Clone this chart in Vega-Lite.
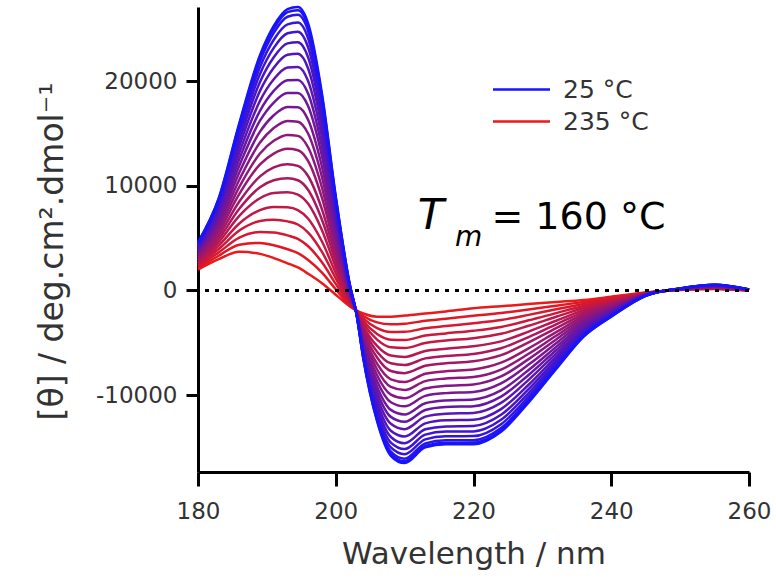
{
"$schema": "https://vega.github.io/schema/vega-lite/v6.json",
"width": 551, "height": 465,
"autosize": "none",
"padding": {"left": 198, "top": 7, "right": 27, "bottom": 107},
"background": "white",
"config": {"view": {"stroke": null}, "font": "DejaVu Sans",
  "axis": {"domainColor": "black", "domainWidth": 3, "tickColor": "black", "tickWidth": 3, "tickSize": 12, "labelFont": "DejaVu Sans", "labelFontSize": 23, "labelColor": "#333", "titleFont": "DejaVu Sans", "titleFontSize": 31, "titleFontWeight": "normal", "titleColor": "#333", "grid": false, "labelFlush": false, "labelOverlap": false, "labelBound": false}
},
"datasets": {"cd": [
{"T":235,"w":180,"v":2000},{"T":235,"w":183,"v":3000},{"T":235,"w":186,"v":3700},{"T":235,"w":189,"v":3500},{"T":235,"w":191,"v":3100},{"T":235,"w":193,"v":2600},{"T":235,"w":194.5,"v":2200},{"T":235,"w":196,"v":1600},{"T":235,"w":198,"v":700},{"T":235,"w":200,"v":-400},{"T":235,"w":202,"v":-1500},{"T":235,"w":203,"v":-1900},{"T":235,"w":204,"v":-2200},{"T":235,"w":206,"v":-2500},{"T":235,"w":208,"v":-2500},{"T":235,"w":210,"v":-2400},{"T":235,"w":213,"v":-2200},{"T":235,"w":216,"v":-2000},{"T":235,"w":220,"v":-1700},{"T":235,"w":224,"v":-1500},{"T":235,"w":228,"v":-1300},{"T":235,"w":232,"v":-1100},{"T":235,"w":236,"v":-900},{"T":235,"w":240,"v":-600},{"T":235,"w":245,"v":-200},{"T":235,"w":250,"v":50},{"T":235,"w":255,"v":150},{"T":235,"w":260,"v":0},
{"T":225,"w":180,"v":2140},{"T":225,"w":183,"v":3320},{"T":225,"w":186,"v":4380},{"T":225,"w":189,"v":4550},{"T":225,"w":191,"v":4320},{"T":225,"w":193,"v":3940},{"T":225,"w":194.5,"v":3570},{"T":225,"w":196,"v":2920},{"T":225,"w":198,"v":1700},{"T":225,"w":200,"v":120},{"T":225,"w":202,"v":-1380},{"T":225,"w":203,"v":-1920},{"T":225,"w":204,"v":-2440},{"T":225,"w":206,"v":-3050},{"T":225,"w":208,"v":-3230},{"T":225,"w":210,"v":-3180},{"T":225,"w":213,"v":-2900},{"T":225,"w":216,"v":-2700},{"T":225,"w":220,"v":-2420},{"T":225,"w":224,"v":-2160},{"T":225,"w":228,"v":-1820},{"T":225,"w":232,"v":-1450},{"T":225,"w":236,"v":-1090},{"T":225,"w":240,"v":-700},{"T":225,"w":245,"v":-220},{"T":225,"w":250,"v":60},{"T":225,"w":255,"v":170},{"T":225,"w":260,"v":10},
{"T":215,"w":180,"v":2290},{"T":215,"w":183,"v":3640},{"T":215,"w":186,"v":5050},{"T":215,"w":189,"v":5590},{"T":215,"w":191,"v":5540},{"T":215,"w":193,"v":5270},{"T":215,"w":194.5,"v":4940},{"T":215,"w":196,"v":4230},{"T":215,"w":198,"v":2690},{"T":215,"w":200,"v":630},{"T":215,"w":202,"v":-1260},{"T":215,"w":203,"v":-1930},{"T":215,"w":204,"v":-2670},{"T":215,"w":206,"v":-3600},{"T":215,"w":208,"v":-3960},{"T":215,"w":210,"v":-3950},{"T":215,"w":213,"v":-3610},{"T":215,"w":216,"v":-3400},{"T":215,"w":220,"v":-3130},{"T":215,"w":224,"v":-2820},{"T":215,"w":228,"v":-2330},{"T":215,"w":232,"v":-1800},{"T":215,"w":236,"v":-1290},{"T":215,"w":240,"v":-810},{"T":215,"w":245,"v":-230},{"T":215,"w":250,"v":70},{"T":215,"w":255,"v":190},{"T":215,"w":260,"v":10},
{"T":205,"w":180,"v":2430},{"T":205,"w":183,"v":3960},{"T":205,"w":186,"v":5730},{"T":205,"w":189,"v":6640},{"T":205,"w":191,"v":6760},{"T":205,"w":193,"v":6610},{"T":205,"w":194.5,"v":6310},{"T":205,"w":196,"v":5540},{"T":205,"w":198,"v":3690},{"T":205,"w":200,"v":1150},{"T":205,"w":202,"v":-1140},{"T":205,"w":203,"v":-1950},{"T":205,"w":204,"v":-2910},{"T":205,"w":206,"v":-4150},{"T":205,"w":208,"v":-4700},{"T":205,"w":210,"v":-4730},{"T":205,"w":213,"v":-4310},{"T":205,"w":216,"v":-4100},{"T":205,"w":220,"v":-3850},{"T":205,"w":224,"v":-3480},{"T":205,"w":228,"v":-2850},{"T":205,"w":232,"v":-2160},{"T":205,"w":236,"v":-1480},{"T":205,"w":240,"v":-910},{"T":205,"w":245,"v":-250},{"T":205,"w":250,"v":80},{"T":205,"w":255,"v":220},{"T":205,"w":260,"v":20},
{"T":195,"w":180,"v":2570},{"T":195,"w":183,"v":4280},{"T":195,"w":186,"v":6410},{"T":195,"w":189,"v":7680},{"T":195,"w":191,"v":7980},{"T":195,"w":193,"v":7950},{"T":195,"w":194.5,"v":7680},{"T":195,"w":196,"v":6860},{"T":195,"w":198,"v":4680},{"T":195,"w":200,"v":1670},{"T":195,"w":202,"v":-1020},{"T":195,"w":203,"v":-1970},{"T":195,"w":204,"v":-3150},{"T":195,"w":206,"v":-4700},{"T":195,"w":208,"v":-5430},{"T":195,"w":210,"v":-5500},{"T":195,"w":213,"v":-5020},{"T":195,"w":216,"v":-4790},{"T":195,"w":220,"v":-4560},{"T":195,"w":224,"v":-4140},{"T":195,"w":228,"v":-3370},{"T":195,"w":232,"v":-2510},{"T":195,"w":236,"v":-1670},{"T":195,"w":240,"v":-1020},{"T":195,"w":245,"v":-270},{"T":195,"w":250,"v":80},{"T":195,"w":255,"v":240},{"T":195,"w":260,"v":20},
{"T":185,"w":180,"v":2730},{"T":185,"w":183,"v":4620},{"T":185,"w":186,"v":7140},{"T":185,"w":189,"v":8820},{"T":185,"w":191,"v":9320},{"T":185,"w":193,"v":9400},{"T":185,"w":194.5,"v":9170},{"T":185,"w":196,"v":8290},{"T":185,"w":198,"v":5770},{"T":185,"w":200,"v":2230},{"T":185,"w":202,"v":-880},{"T":185,"w":203,"v":-1980},{"T":185,"w":204,"v":-3400},{"T":185,"w":206,"v":-5300},{"T":185,"w":208,"v":-6220},{"T":185,"w":210,"v":-6350},{"T":185,"w":213,"v":-5780},{"T":185,"w":216,"v":-5560},{"T":185,"w":220,"v":-5340},{"T":185,"w":224,"v":-4860},{"T":185,"w":228,"v":-3930},{"T":185,"w":232,"v":-2890},{"T":185,"w":236,"v":-1880},{"T":185,"w":240,"v":-1130},{"T":185,"w":245,"v":-280},{"T":185,"w":250,"v":90},{"T":185,"w":255,"v":260},{"T":185,"w":260,"v":30},
{"T":175,"w":180,"v":2870},{"T":175,"w":183,"v":4940},{"T":175,"w":186,"v":7820},{"T":175,"w":189,"v":9870},{"T":175,"w":191,"v":10540},{"T":175,"w":193,"v":10740},{"T":175,"w":194.5,"v":10540},{"T":175,"w":196,"v":9610},{"T":175,"w":198,"v":6760},{"T":175,"w":200,"v":2750},{"T":175,"w":202,"v":-760},{"T":175,"w":203,"v":-2000},{"T":175,"w":204,"v":-3640},{"T":175,"w":206,"v":-5850},{"T":175,"w":208,"v":-6960},{"T":175,"w":210,"v":-7120},{"T":175,"w":213,"v":-6490},{"T":175,"w":216,"v":-6260},{"T":175,"w":220,"v":-6060},{"T":175,"w":224,"v":-5520},{"T":175,"w":228,"v":-4450},{"T":175,"w":232,"v":-3240},{"T":175,"w":236,"v":-2070},{"T":175,"w":240,"v":-1240},{"T":175,"w":245,"v":-300},{"T":175,"w":250,"v":100},{"T":175,"w":255,"v":280},{"T":175,"w":260,"v":30},
{"T":165,"w":180,"v":3010},{"T":165,"w":183,"v":5260},{"T":165,"w":186,"v":8500},{"T":165,"w":189,"v":10910},{"T":165,"w":191,"v":11760},{"T":165,"w":193,"v":12080},{"T":165,"w":194.5,"v":11910},{"T":165,"w":196,"v":10920},{"T":165,"w":198,"v":7760},{"T":165,"w":200,"v":3270},{"T":165,"w":202,"v":-640},{"T":165,"w":203,"v":-2020},{"T":165,"w":204,"v":-3880},{"T":165,"w":206,"v":-6400},{"T":165,"w":208,"v":-7690},{"T":165,"w":210,"v":-7900},{"T":165,"w":213,"v":-7190},{"T":165,"w":216,"v":-6950},{"T":165,"w":220,"v":-6770},{"T":165,"w":224,"v":-6180},{"T":165,"w":228,"v":-4970},{"T":165,"w":232,"v":-3600},{"T":165,"w":236,"v":-2270},{"T":165,"w":240,"v":-1340},{"T":165,"w":245,"v":-320},{"T":165,"w":250,"v":110},{"T":165,"w":255,"v":310},{"T":165,"w":260,"v":40},
{"T":155,"w":180,"v":3170},{"T":155,"w":183,"v":5610},{"T":155,"w":186,"v":9240},{"T":155,"w":189,"v":12050},{"T":155,"w":191,"v":13090},{"T":155,"w":193,"v":13540},{"T":155,"w":194.5,"v":13410},{"T":155,"w":196,"v":12360},{"T":155,"w":198,"v":8850},{"T":155,"w":200,"v":3830},{"T":155,"w":202,"v":-510},{"T":155,"w":203,"v":-2040},{"T":155,"w":204,"v":-4140},{"T":155,"w":206,"v":-7000},{"T":155,"w":208,"v":-8490},{"T":155,"w":210,"v":-8750},{"T":155,"w":213,"v":-7960},{"T":155,"w":216,"v":-7720},{"T":155,"w":220,"v":-7550},{"T":155,"w":224,"v":-6900},{"T":155,"w":228,"v":-5530},{"T":155,"w":232,"v":-3980},{"T":155,"w":236,"v":-2480},{"T":155,"w":240,"v":-1460},{"T":155,"w":245,"v":-340},{"T":155,"w":250,"v":120},{"T":155,"w":255,"v":330},{"T":155,"w":260,"v":50},
{"T":145,"w":180,"v":3310},{"T":145,"w":183,"v":5930},{"T":145,"w":186,"v":9910},{"T":145,"w":189,"v":13100},{"T":145,"w":191,"v":14310},{"T":145,"w":193,"v":14870},{"T":145,"w":194.5,"v":14780},{"T":145,"w":196,"v":13670},{"T":145,"w":198,"v":9840},{"T":145,"w":200,"v":4350},{"T":145,"w":202,"v":-390},{"T":145,"w":203,"v":-2050},{"T":145,"w":204,"v":-4370},{"T":145,"w":206,"v":-7550},{"T":145,"w":208,"v":-9220},{"T":145,"w":210,"v":-9520},{"T":145,"w":213,"v":-8660},{"T":145,"w":216,"v":-8410},{"T":145,"w":220,"v":-8270},{"T":145,"w":224,"v":-7560},{"T":145,"w":228,"v":-6050},{"T":145,"w":232,"v":-4330},{"T":145,"w":236,"v":-2670},{"T":145,"w":240,"v":-1560},{"T":145,"w":245,"v":-350},{"T":145,"w":250,"v":130},{"T":145,"w":255,"v":350},{"T":145,"w":260,"v":50},
{"T":135,"w":180,"v":3460},{"T":135,"w":183,"v":6250},{"T":135,"w":186,"v":10590},{"T":135,"w":189,"v":14140},{"T":135,"w":191,"v":15530},{"T":135,"w":193,"v":16210},{"T":135,"w":194.5,"v":16140},{"T":135,"w":196,"v":14980},{"T":135,"w":198,"v":10840},{"T":135,"w":200,"v":4860},{"T":135,"w":202,"v":-270},{"T":135,"w":203,"v":-2070},{"T":135,"w":204,"v":-4610},{"T":135,"w":206,"v":-8100},{"T":135,"w":208,"v":-9950},{"T":135,"w":210,"v":-10300},{"T":135,"w":213,"v":-9370},{"T":135,"w":216,"v":-9110},{"T":135,"w":220,"v":-8980},{"T":135,"w":224,"v":-8220},{"T":135,"w":228,"v":-6560},{"T":135,"w":232,"v":-4680},{"T":135,"w":236,"v":-2860},{"T":135,"w":240,"v":-1660},{"T":135,"w":245,"v":-370},{"T":135,"w":250,"v":130},{"T":135,"w":255,"v":370},{"T":135,"w":260,"v":60},
{"T":125,"w":180,"v":3600},{"T":125,"w":183,"v":6570},{"T":125,"w":186,"v":11270},{"T":125,"w":189,"v":15190},{"T":125,"w":191,"v":16750},{"T":125,"w":193,"v":17550},{"T":125,"w":194.5,"v":17510},{"T":125,"w":196,"v":16300},{"T":125,"w":198,"v":11830},{"T":125,"w":200,"v":5380},{"T":125,"w":202,"v":-150},{"T":125,"w":203,"v":-2090},{"T":125,"w":204,"v":-4850},{"T":125,"w":206,"v":-8650},{"T":125,"w":208,"v":-10680},{"T":125,"w":210,"v":-11070},{"T":125,"w":213,"v":-10070},{"T":125,"w":216,"v":-9810},{"T":125,"w":220,"v":-9700},{"T":125,"w":224,"v":-8880},{"T":125,"w":228,"v":-7080},{"T":125,"w":232,"v":-5040},{"T":125,"w":236,"v":-3050},{"T":125,"w":240,"v":-1770},{"T":125,"w":245,"v":-390},{"T":125,"w":250,"v":140},{"T":125,"w":255,"v":400},{"T":125,"w":260,"v":60},
{"T":115,"w":180,"v":3740},{"T":115,"w":183,"v":6890},{"T":115,"w":186,"v":11940},{"T":115,"w":189,"v":16230},{"T":115,"w":191,"v":17970},{"T":115,"w":193,"v":18880},{"T":115,"w":194.5,"v":18880},{"T":115,"w":196,"v":17610},{"T":115,"w":198,"v":12830},{"T":115,"w":200,"v":5900},{"T":115,"w":202,"v":-30},{"T":115,"w":203,"v":-2100},{"T":115,"w":204,"v":-5080},{"T":115,"w":206,"v":-9200},{"T":115,"w":208,"v":-11410},{"T":115,"w":210,"v":-11850},{"T":115,"w":213,"v":-10780},{"T":115,"w":216,"v":-10510},{"T":115,"w":220,"v":-10410},{"T":115,"w":224,"v":-9540},{"T":115,"w":228,"v":-7600},{"T":115,"w":232,"v":-5390},{"T":115,"w":236,"v":-3250},{"T":115,"w":240,"v":-1870},{"T":115,"w":245,"v":-400},{"T":115,"w":250,"v":150},{"T":115,"w":255,"v":420},{"T":115,"w":260,"v":70},
{"T":105,"w":180,"v":3870},{"T":105,"w":183,"v":7180},{"T":105,"w":186,"v":12560},{"T":105,"w":189,"v":17180},{"T":105,"w":191,"v":19080},{"T":105,"w":193,"v":20100},{"T":105,"w":194.5,"v":20130},{"T":105,"w":196,"v":18810},{"T":105,"w":198,"v":13730},{"T":105,"w":200,"v":6370},{"T":105,"w":202,"v":80},{"T":105,"w":203,"v":-2120},{"T":105,"w":204,"v":-5300},{"T":105,"w":206,"v":-9700},{"T":105,"w":208,"v":-12080},{"T":105,"w":210,"v":-12550},{"T":105,"w":213,"v":-11420},{"T":105,"w":216,"v":-11140},{"T":105,"w":220,"v":-11060},{"T":105,"w":224,"v":-10140},{"T":105,"w":228,"v":-8070},{"T":105,"w":232,"v":-5710},{"T":105,"w":236,"v":-3420},{"T":105,"w":240,"v":-1970},{"T":105,"w":245,"v":-420},{"T":105,"w":250,"v":160},{"T":105,"w":255,"v":440},{"T":105,"w":260,"v":70},
{"T":95,"w":180,"v":4000},{"T":95,"w":183,"v":7470},{"T":95,"w":186,"v":13170},{"T":95,"w":189,"v":18130},{"T":95,"w":191,"v":20190},{"T":95,"w":193,"v":21310},{"T":95,"w":194.5,"v":21370},{"T":95,"w":196,"v":20000},{"T":95,"w":198,"v":14640},{"T":95,"w":200,"v":6840},{"T":95,"w":202,"v":190},{"T":95,"w":203,"v":-2130},{"T":95,"w":204,"v":-5510},{"T":95,"w":206,"v":-10200},{"T":95,"w":208,"v":-12740},{"T":95,"w":210,"v":-13260},{"T":95,"w":213,"v":-12060},{"T":95,"w":216,"v":-11780},{"T":95,"w":220,"v":-11710},{"T":95,"w":224,"v":-10740},{"T":95,"w":228,"v":-8540},{"T":95,"w":232,"v":-6030},{"T":95,"w":236,"v":-3600},{"T":95,"w":240,"v":-2060},{"T":95,"w":245,"v":-430},{"T":95,"w":250,"v":170},{"T":95,"w":255,"v":460},{"T":95,"w":260,"v":80},
{"T":85,"w":180,"v":4130},{"T":85,"w":183,"v":7760},{"T":85,"w":186,"v":13790},{"T":85,"w":189,"v":19080},{"T":85,"w":191,"v":21300},{"T":85,"w":193,"v":22530},{"T":85,"w":194.5,"v":22620},{"T":85,"w":196,"v":21200},{"T":85,"w":198,"v":15540},{"T":85,"w":200,"v":7310},{"T":85,"w":202,"v":300},{"T":85,"w":203,"v":-2150},{"T":85,"w":204,"v":-5730},{"T":85,"w":206,"v":-10700},{"T":85,"w":208,"v":-13410},{"T":85,"w":210,"v":-13960},{"T":85,"w":213,"v":-12700},{"T":85,"w":216,"v":-12410},{"T":85,"w":220,"v":-12360},{"T":85,"w":224,"v":-11340},{"T":85,"w":228,"v":-9010},{"T":85,"w":232,"v":-6350},{"T":85,"w":236,"v":-3770},{"T":85,"w":240,"v":-2160},{"T":85,"w":245,"v":-450},{"T":85,"w":250,"v":170},{"T":85,"w":255,"v":480},{"T":85,"w":260,"v":80},
{"T":75,"w":180,"v":4250},{"T":75,"w":183,"v":8020},{"T":75,"w":186,"v":14340},{"T":75,"w":189,"v":19940},{"T":75,"w":191,"v":22300},{"T":75,"w":193,"v":23620},{"T":75,"w":194.5,"v":23740},{"T":75,"w":196,"v":22270},{"T":75,"w":198,"v":16360},{"T":75,"w":200,"v":7730},{"T":75,"w":202,"v":400},{"T":75,"w":203,"v":-2160},{"T":75,"w":204,"v":-5920},{"T":75,"w":206,"v":-11150},{"T":75,"w":208,"v":-14000},{"T":75,"w":210,"v":-14600},{"T":75,"w":213,"v":-13270},{"T":75,"w":216,"v":-12990},{"T":75,"w":220,"v":-12950},{"T":75,"w":224,"v":-11880},{"T":75,"w":228,"v":-9430},{"T":75,"w":232,"v":-6640},{"T":75,"w":236,"v":-3930},{"T":75,"w":240,"v":-2240},{"T":75,"w":245,"v":-460},{"T":75,"w":250,"v":180},{"T":75,"w":255,"v":500},{"T":75,"w":260,"v":90},
{"T":65,"w":180,"v":4350},{"T":65,"w":183,"v":8250},{"T":65,"w":186,"v":14830},{"T":65,"w":189,"v":20700},{"T":65,"w":191,"v":23190},{"T":65,"w":193,"v":24590},{"T":65,"w":194.5,"v":24740},{"T":65,"w":196,"v":23230},{"T":65,"w":198,"v":17080},{"T":65,"w":200,"v":8110},{"T":65,"w":202,"v":490},{"T":65,"w":203,"v":-2170},{"T":65,"w":204,"v":-6090},{"T":65,"w":206,"v":-11550},{"T":65,"w":208,"v":-14540},{"T":65,"w":210,"v":-15160},{"T":65,"w":213,"v":-13780},{"T":65,"w":216,"v":-13490},{"T":65,"w":220,"v":-13470},{"T":65,"w":224,"v":-12360},{"T":65,"w":228,"v":-9810},{"T":65,"w":232,"v":-6890},{"T":65,"w":236,"v":-4070},{"T":65,"w":240,"v":-2320},{"T":65,"w":245,"v":-470},{"T":65,"w":250,"v":190},{"T":65,"w":255,"v":510},{"T":65,"w":260,"v":90},
{"T":55,"w":180,"v":4440},{"T":55,"w":183,"v":8450},{"T":55,"w":186,"v":15260},{"T":55,"w":189,"v":21360},{"T":55,"w":191,"v":23970},{"T":55,"w":193,"v":25440},{"T":55,"w":194.5,"v":25610},{"T":55,"w":196,"v":24070},{"T":55,"w":198,"v":17710},{"T":55,"w":200,"v":8440},{"T":55,"w":202,"v":570},{"T":55,"w":203,"v":-2180},{"T":55,"w":204,"v":-6240},{"T":55,"w":206,"v":-11900},{"T":55,"w":208,"v":-15000},{"T":55,"w":210,"v":-15650},{"T":55,"w":213,"v":-14230},{"T":55,"w":216,"v":-13940},{"T":55,"w":220,"v":-13920},{"T":55,"w":224,"v":-12780},{"T":55,"w":228,"v":-10140},{"T":55,"w":232,"v":-7120},{"T":55,"w":236,"v":-4190},{"T":55,"w":240,"v":-2390},{"T":55,"w":245,"v":-480},{"T":55,"w":250,"v":190},{"T":55,"w":255,"v":530},{"T":55,"w":260,"v":90},
{"T":45,"w":180,"v":4520},{"T":45,"w":183,"v":8630},{"T":45,"w":186,"v":15630},{"T":45,"w":189,"v":21930},{"T":45,"w":191,"v":24630},{"T":45,"w":193,"v":26170},{"T":45,"w":194.5,"v":26350},{"T":45,"w":196,"v":24780},{"T":45,"w":198,"v":18260},{"T":45,"w":200,"v":8720},{"T":45,"w":202,"v":630},{"T":45,"w":203,"v":-2190},{"T":45,"w":204,"v":-6370},{"T":45,"w":206,"v":-12200},{"T":45,"w":208,"v":-15400},{"T":45,"w":210,"v":-16080},{"T":45,"w":213,"v":-14620},{"T":45,"w":216,"v":-14320},{"T":45,"w":220,"v":-14310},{"T":45,"w":224,"v":-13140},{"T":45,"w":228,"v":-10420},{"T":45,"w":232,"v":-7310},{"T":45,"w":236,"v":-4300},{"T":45,"w":240,"v":-2440},{"T":45,"w":245,"v":-490},{"T":45,"w":250,"v":200},{"T":45,"w":255,"v":540},{"T":45,"w":260,"v":100},
{"T":35,"w":180,"v":4570},{"T":35,"w":183,"v":8730},{"T":35,"w":186,"v":15850},{"T":35,"w":189,"v":22270},{"T":35,"w":191,"v":25030},{"T":35,"w":193,"v":26610},{"T":35,"w":194.5,"v":26800},{"T":35,"w":196,"v":25210},{"T":35,"w":198,"v":18580},{"T":35,"w":200,"v":8890},{"T":35,"w":202,"v":670},{"T":35,"w":203,"v":-2200},{"T":35,"w":204,"v":-6450},{"T":35,"w":206,"v":-12380},{"T":35,"w":208,"v":-15640},{"T":35,"w":210,"v":-16330},{"T":35,"w":213,"v":-14850},{"T":35,"w":216,"v":-14550},{"T":35,"w":220,"v":-14540},{"T":35,"w":224,"v":-13360},{"T":35,"w":228,"v":-10590},{"T":35,"w":232,"v":-7420},{"T":35,"w":236,"v":-4360},{"T":35,"w":240,"v":-2480},{"T":35,"w":245,"v":-500},{"T":35,"w":250,"v":200},{"T":35,"w":255,"v":550},{"T":35,"w":260,"v":100},
{"T":25,"w":180,"v":4600},{"T":25,"w":183,"v":8800},{"T":25,"w":186,"v":16000},{"T":25,"w":189,"v":22500},{"T":25,"w":191,"v":25300},{"T":25,"w":193,"v":26900},{"T":25,"w":194.5,"v":27100},{"T":25,"w":196,"v":25500},{"T":25,"w":198,"v":18800},{"T":25,"w":200,"v":9000},{"T":25,"w":202,"v":700},{"T":25,"w":203,"v":-2200},{"T":25,"w":204,"v":-6500},{"T":25,"w":206,"v":-12500},{"T":25,"w":208,"v":-15800},{"T":25,"w":210,"v":-16500},{"T":25,"w":213,"v":-15000},{"T":25,"w":216,"v":-14700},{"T":25,"w":220,"v":-14700},{"T":25,"w":224,"v":-13500},{"T":25,"w":228,"v":-10700},{"T":25,"w":232,"v":-7500},{"T":25,"w":236,"v":-4400},{"T":25,"w":240,"v":-2500},{"T":25,"w":245,"v":-500},{"T":25,"w":250,"v":200},{"T":25,"w":255,"v":550},{"T":25,"w":260,"v":100}
]},
"layer": [
  {
    "data": {"name": "cd"},
    "mark": {"type": "line", "interpolate": "monotone", "strokeWidth": 2.5},
    "encoding": {
      "x": {"field": "w", "type": "quantitative", "scale": {"domain": [180, 260], "nice": false, "zero": false},
            "axis": {"values": [180, 200, 220, 240, 260], "title": "Wavelength / nm", "tickSize": 14, "labelPadding": 14, "titlePadding": 16}},
      "y": {"field": "v", "type": "quantitative", "scale": {"domain": [-17350, 27100], "nice": false, "zero": false},
            "axis": {"values": [-10000, 0, 10000, 20000], "labelExpr": "toString(datum.value)", "title": "[θ] / deg.cm².dmol⁻¹", "titleFontSize": 33, "titleY": 244, "labelPadding": 9, "titlePadding": 26}},
      "color": {"field": "T", "type": "ordinal",
        "scale": {"domain": [25,35,45,55,65,75,85,95,105,115,125,135,145,155,165,175,185,195,205,215,225,235],
                  "range": ["#1414ff","#1e14f4","#2914e9","#3315de","#3d15d3","#4715c8","#5115bd","#5c16b2","#6616a7","#70169c","#7a1691","#851787","#8f177c","#991771","#a31766","#ae175b","#b81850","#c21845","#cc183a","#d7182f","#e11824","#eb1919"]},
        "legend": {"values": [25, 235], "title": null, "orient": "none", "legendX": 308, "legendY": 67, "symbolType": "M-2,0H2", "symbolSize": 812, "symbolStrokeWidth": 2.5, "labelFont": "DejaVu Sans", "labelFontSize": 25, "labelColor": "#333", "labelExpr": "datum.label + ' °C'", "rowPadding": 3, "labelOffset": 26}}
    }
  },
  {
    "data": {"values": [{"z": 0}]},
    "mark": {"type": "rule", "color": "black", "strokeWidth": 3, "strokeDash": [4, 6]},
    "encoding": {"y": {"field": "z", "type": "quantitative"}}
  },
  {
    "data": {"values": [{"w": 211.9, "v": 5870, "s": "T"}]},
    "mark": {"type": "text", "align": "left", "baseline": "alphabetic", "font": "DejaVu Sans", "fontSize": 43, "fontStyle": "italic", "color": "black"},
    "encoding": {"x": {"field": "w", "type": "quantitative"}, "y": {"field": "v", "type": "quantitative"}, "text": {"field": "s"}}
  },
  {
    "data": {"values": [{"w": 217.3, "v": 4250, "s": "m"}]},
    "mark": {"type": "text", "align": "left", "baseline": "alphabetic", "font": "DejaVu Sans", "fontSize": 28, "fontStyle": "italic", "color": "black"},
    "encoding": {"x": {"field": "w", "type": "quantitative"}, "y": {"field": "v", "type": "quantitative"}, "text": {"field": "s"}}
  },
  {
    "data": {"values": [{"w": 222.6, "v": 5870, "s": "= 160 °C"}]},
    "mark": {"type": "text", "align": "left", "baseline": "alphabetic", "font": "DejaVu Sans", "fontSize": 38, "color": "black"},
    "encoding": {"x": {"field": "w", "type": "quantitative"}, "y": {"field": "v", "type": "quantitative"}, "text": {"field": "s"}}
  }
]
}
